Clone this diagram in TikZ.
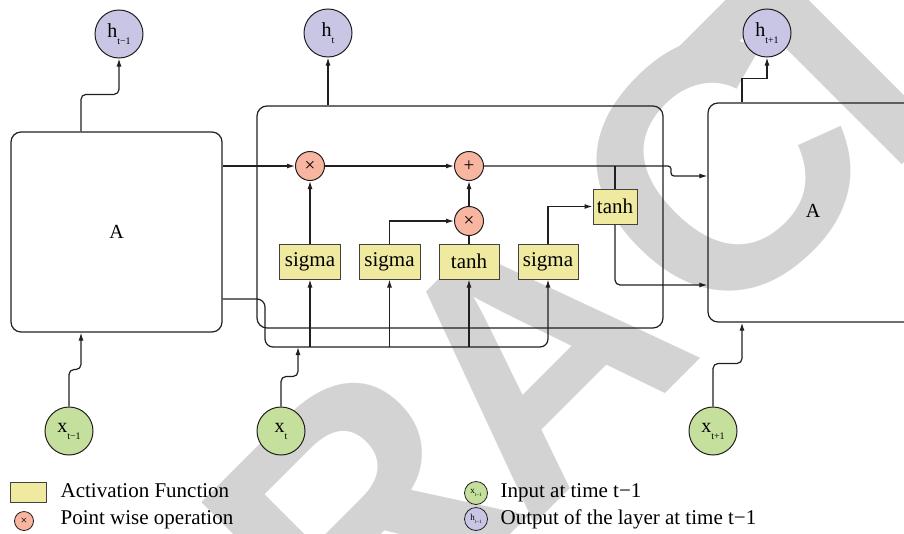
\documentclass[tikz,border=0pt]{standalone}
\usepackage{fontspec}
\setmainfont{Liberation Serif}
\newfontfamily\wmfont{Liberation Sans}
\usetikzlibrary{arrows.meta}
\definecolor{actfill}{RGB}{240,233,160}
\definecolor{opfill}{RGB}{248,182,160}
\definecolor{infill}{RGB}{197,223,156}
\definecolor{outfill}{RGB}{201,197,228}
\definecolor{wmgray}{RGB}{211,211,211}
\definecolor{ln}{RGB}{35,31,32}
\newcommand{\sub}[1]{\raisebox{-7pt}{\fontsize{10}{10}\selectfont #1}}
\newcommand{\tsub}[1]{\raisebox{-3.5pt}{\fontsize{5}{5}\selectfont #1}}
\begin{document}
\begin{tikzpicture}[x=1pt,y=-1pt,line width=1.2pt,draw=ln,
  arr/.style={-{Latex[length=8pt,width=5pt]}},
  cellbox/.style={draw=ln,rounded corners=10pt,inner sep=0pt,font=\fontsize{20}{24}\selectfont},
  actbox/.style={draw=ln!85,fill=actfill,line width=1pt,minimum height=35pt,inner sep=0pt,font=\fontsize{21}{24}\selectfont},
  opnode/.style={circle,draw=ln,fill=opfill,line width=1pt,minimum size=29pt,inner sep=0pt,font=\fontsize{19}{19}\selectfont},
  innode/.style={circle,draw=ln,fill=infill,line width=1pt,minimum size=48pt,inner sep=0pt,font=\fontsize{20}{20}\selectfont},
  outnode/.style={circle,draw=ln,fill=outfill,line width=1pt,minimum size=48pt,inner sep=0pt,font=\fontsize{20}{20}\selectfont},
  legtext/.style={anchor=base west,inner sep=0pt,font=\fontsize{21}{24}\selectfont},
  wm/.style={text=wmgray,inner sep=0pt,rotate=45,font=\wmfont\bfseries\fontsize{350}{350}\selectfont}]
\useasboundingbox (0,0) rectangle (904,533);
\clip (0,0) rectangle (904,533);
% watermark
\node[wm] (wmR) at (360,515) {R};
\node[wm] (wmA) at (533,356) {A};
\node[wm] (wmC) at (720,170) {C};
\node[wm] (wmT) at (835,62) {T};
% cells
\node[cellbox,minimum width=211pt,minimum height=200pt] (A1) at (116.5,232) {A};
\node[cellbox,minimum width=406pt,minimum height=222pt] (M) at (460,217) {};
\node[cellbox,minimum width=240pt,minimum height=219pt] (A3) at (828,212.5) {};
\node[inner sep=0pt,font=\fontsize{20}{24}\selectfont] (A3lab) at (813,211) {A};
% outputs and inputs
\node[outnode] (h1) at (119,34) {h\sub{t−1}};
\node[outnode] (h2) at (328,33) {h\sub{t}};
\node[outnode] (h3) at (767,33) {h\sub{t+1}};
\node[innode] (x1) at (69,431) {x\sub{t−1}};
\node[innode] (x2) at (281,431) {x\sub{t}};
\node[innode] (x3) at (713,431) {x\sub{t+1}};
% operations
\node[opnode] (mul1) at (310,166) {×};
\node[opnode] (add) at (469,166) {+};
\node[opnode] (mul2) at (469,221) {×};
% activations
\node[actbox,minimum width=61pt] (s1) at (310,261.5) {sigma};
\node[actbox,minimum width=61pt] (s2) at (389.5,261.5) {sigma};
\node[actbox,minimum width=60pt] (t1) at (469,261.5) {tanh};
\node[actbox,minimum width=60pt] (s3) at (548,261.5) {sigma};
\node[actbox,minimum width=44pt] (t2) at (615,206.5) {tanh};
\coordinate (busL) at (265,347);
\coordinate (busin) at (298,347);
% connectors to outputs
\draw[arr,rounded corners=5pt] ([xshift=-35.5pt]A1.north) -- ++(0,-37) -| (h1.south);
\draw[arr] (M.north -| h2.south) -- (h2.south);
\draw[arr] ([xshift=-86pt]A3.north) -- ++(0,-24) -| (h3.south);
% connectors from inputs
\draw[arr,rounded corners=5pt] (x1.north) -- ++(0,-37) -| ([xshift=-35.5pt]A1.south);
\draw[arr,rounded corners=5pt] (x2.north) -- ++(0,-30) -| (busin);
\draw[arr,rounded corners=5pt] (x3.north) -- ++(0,-43) -| ([xshift=-86pt]A3.south);
% inner connectors
\draw[arr] (A1.east |- mul1) -- (mul1.west);
\draw[arr] (mul1.east) -- (add.west);
\draw[arr,rounded corners=3pt] (add.east) -- ++(187,0) -- ++(0,10) -- (A3.west |- 0,176);
\draw (t2.north |- add.east) -- (t2.north);
\draw[arr,rounded corners=5pt] (t2.south) |- (A3.west |- 0,285);
\draw[arr] (s1.north) -- (mul1.south);
\draw[arr] (s2.north) |- (mul2.west);
\draw (t1.north) -- (mul2.south);
\draw[arr] (mul2.north) -- (add.south);
\draw[arr] (s3.north) |- (t2.west);
\draw[arr,rounded corners=8pt] (A1.east |- 0,299) -| (busL) -| (s3.south);
\draw[arr] (s1.south |- busL) -- (s1.south);
\draw[arr] (s2.south |- busL) -- (s2.south);
\draw[arr] (t1.south |- busL) -- (t1.south);
% legend
\node[draw=ln!85,fill=actfill,line width=1pt,minimum width=36pt,minimum height=20pt,inner sep=0pt] (legact) at (28,492) {};
\node[legtext] (legacttxt) at (60,497) {Activation Function};
\node[circle,draw=ln,fill=opfill,line width=0.8pt,minimum size=19pt,inner sep=0pt,font=\fontsize{12}{12}\selectfont] (legop) at (24,521) {×};
\node[legtext] (legoptxt) at (60,524) {Point wise operation};
\node[circle,draw=ln,fill=infill,line width=0.8pt,minimum size=23pt,inner sep=0pt,font=\fontsize{9}{9}\selectfont] (legin) at (476,493) {x\tsub{t−1}};
\node[legtext] (legintxt) at (500,497) {Input at time t−1};
\node[circle,draw=ln,fill=outfill,line width=0.8pt,minimum size=23pt,inner sep=0pt,font=\fontsize{9}{9}\selectfont] (legout) at (476,519) {h\tsub{t−1}};
\node[legtext] (legouttxt) at (500,524) {Output of the layer at time t−1};
\end{tikzpicture}
\end{document}
